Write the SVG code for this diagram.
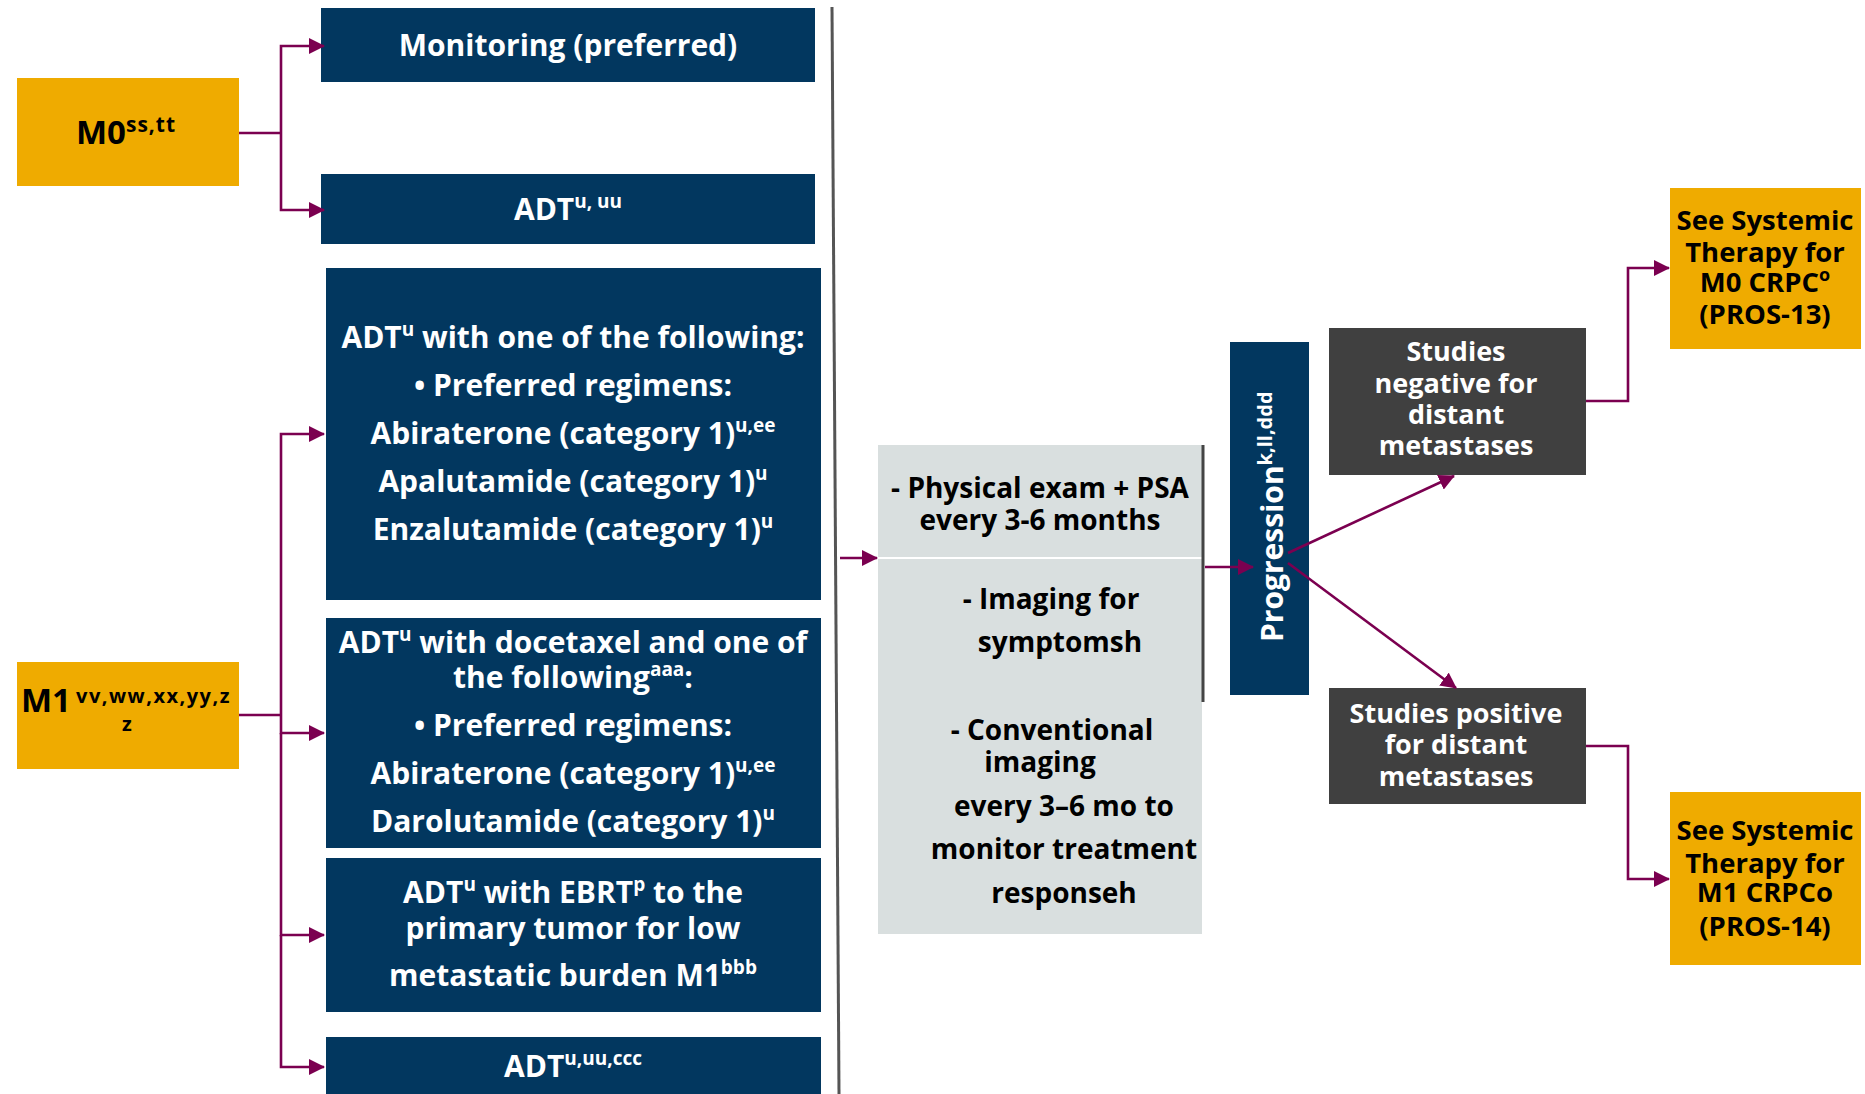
<svg xmlns="http://www.w3.org/2000/svg" width="1865" height="1094" viewBox="0 0 1865 1094">
<style>
  .navy{fill:#02375f}
  .gold{fill:#efab00}
  .dgray{fill:#404040}
  .lgray{fill:#d9dfdf}
  text{font-family:"Open Sans",Lato,"Liberation Sans",sans-serif;font-weight:bold}
  .w{fill:#ffffff;font-size:30px;text-anchor:middle}
  .b{fill:#000000;font-size:28px;text-anchor:middle}
  .bs{fill:#000000;font-size:27.5px;text-anchor:middle}
  .ws{fill:#ffffff;font-size:27px;text-anchor:middle}
  .sup{font-size:19px}
  .conn{fill:none;stroke:#7b0050;stroke-width:2.6}
</style>
<defs>
  <marker id="ah" markerUnits="userSpaceOnUse" markerWidth="16" markerHeight="16" viewBox="0 0 16 16" refX="15" refY="8" orient="auto">
    <path d="M0,0 L16,8 L0,16 Z" fill="#7b0050"/>
  </marker>
</defs>
<rect width="1865" height="1094" fill="#ffffff"/>

<!-- divider -->
<line x1="832" y1="7" x2="839" y2="1094" stroke="#555555" stroke-width="3"/>

<g id="m0">
  <rect class="gold" x="17" y="78" width="222" height="108"/>
  <text x="76" y="144" style="font-size:33px;fill:#000">M0<tspan dy="-12" style="font-size:21px;letter-spacing:1px">ss,tt</tspan></text>
</g>

<g id="m1">
  <rect class="gold" x="17" y="662" width="222" height="107"/>
  <text x="21" y="712" style="font-size:33px;fill:#000">M1</text>
  <text x="76" y="703" style="font-size:20px;letter-spacing:1.5px;fill:#000">vv,ww,xx,yy,z</text>
  <text x="127" y="731" style="font-size:20px;fill:#000;text-anchor:middle">z</text>
</g>

<g id="monitoring">
  <rect class="navy" x="321" y="8" width="494" height="74"/>
  <text class="w" x="568" y="56">Monitoring (preferred)</text>
</g>

<g id="adt-m0">
  <rect class="navy" x="321" y="174" width="494" height="70"/>
  <text class="w" x="568" y="220">ADT<tspan dy="-12" class="sup">u, uu</tspan></text>
</g>

<g id="adt-one-of">
  <rect class="navy" x="326" y="268" width="495" height="332"/>
  <text class="w" x="573" y="348">ADT<tspan dy="-12" class="sup">u</tspan><tspan dy="12"> with one of the following:</tspan></text>
  <text class="w" x="573" y="396">• Preferred regimens:</text>
  <text class="w" x="573" y="444">Abiraterone (category 1)<tspan dy="-12" class="sup">u,ee</tspan></text>
  <text class="w" x="573" y="492">Apalutamide (category 1)<tspan dy="-12" class="sup">u</tspan></text>
  <text class="w" x="573" y="540">Enzalutamide (category 1)<tspan dy="-12" class="sup">u</tspan></text>
</g>

<g id="adt-docetaxel">
  <rect class="navy" x="326" y="618" width="495" height="230"/>
  <text class="w" x="573" y="653">ADT<tspan dy="-12" class="sup">u</tspan><tspan dy="12"> with docetaxel and one of</tspan></text>
  <text class="w" x="573" y="688">the following<tspan dy="-12" class="sup">aaa</tspan><tspan dy="12">:</tspan></text>
  <text class="w" x="573" y="736">• Preferred regimens:</text>
  <text class="w" x="573" y="784">Abiraterone (category 1)<tspan dy="-12" class="sup">u,ee</tspan></text>
  <text class="w" x="573" y="832">Darolutamide (category 1)<tspan dy="-12" class="sup">u</tspan></text>
</g>

<g id="adt-ebrt">
  <rect class="navy" x="326" y="858" width="495" height="154"/>
  <text class="w" x="573" y="903">ADT<tspan dy="-12" class="sup">u</tspan><tspan dy="12"> with EBRT</tspan><tspan dy="-12" class="sup">p</tspan><tspan dy="12"> to the</tspan></text>
  <text class="w" x="573" y="939">primary tumor for low</text>
  <text class="w" x="573" y="986">metastatic burden M1<tspan dy="-12" class="sup">bbb</tspan></text>
</g>

<g id="adt-m1">
  <rect class="navy" x="326" y="1037" width="495" height="57"/>
  <text class="w" x="573" y="1077">ADT<tspan dy="-12" class="sup">u,uu,ccc</tspan></text>
</g>

<g id="monitoring-tests">
  <rect class="lgray" x="878" y="445" width="324" height="489"/>
  <line x1="878" y1="558" x2="1202" y2="558" stroke="#ffffff" stroke-width="2"/>
  <line x1="1203" y1="445" x2="1203" y2="702" stroke="#444444" stroke-width="3"/>
  <text class="b" x="1040" y="498">- Physical exam + PSA</text>
  <text class="b" x="1040" y="530">every 3-6 months</text>
  <text class="b" x="1051" y="609">- Imaging for</text>
  <text class="b" x="1060" y="652">symptomsh</text>
  <text class="b" x="1052" y="740">- Conventional</text>
  <text class="b" x="1040" y="772">imaging</text>
  <text class="b" x="1064" y="816">every 3–6 mo to</text>
  <text class="b" x="1064" y="859">monitor treatment</text>
  <text class="b" x="1064" y="903">responseh</text>
</g>

<g id="progression">
  <rect class="navy" x="1230" y="342" width="79" height="353"/>
  <text transform="translate(1283,642) rotate(-90)" style="fill:#fff;font-size:30px">Progression<tspan dy="-11" style="font-size:20px">k,ll,ddd</tspan></text>
</g>

<g id="studies-negative">
  <rect class="dgray" x="1329" y="328" width="257" height="147"/>
  <text class="ws" x="1456" y="361">Studies</text>
  <text class="ws" x="1456" y="393">negative for</text>
  <text class="ws" x="1456" y="424">distant</text>
  <text class="ws" x="1456" y="455">metastases</text>
</g>

<g id="studies-positive">
  <rect class="dgray" x="1329" y="688" width="257" height="116"/>
  <text class="ws" x="1456" y="723">Studies positive</text>
  <text class="ws" x="1456" y="754">for distant</text>
  <text class="ws" x="1456" y="786">metastases</text>
</g>

<g id="see-m0-crpc">
  <rect class="gold" x="1670" y="188" width="191" height="161"/>
  <text class="bs" x="1765" y="230">See Systemic</text>
  <text class="bs" x="1765" y="262">Therapy for</text>
  <text class="bs" x="1765" y="292">M0 CRPC<tspan dy="-11" style="font-size:18px">o</tspan></text>
  <text class="bs" x="1765" y="324">(PROS-13)</text>
</g>

<g id="see-m1-crpc">
  <rect class="gold" x="1670" y="792" width="191" height="173"/>
  <text class="bs" x="1765" y="840">See Systemic</text>
  <text class="bs" x="1765" y="873">Therapy for</text>
  <text class="bs" x="1765" y="902">M1 CRPCo</text>
  <text class="bs" x="1765" y="936">(PROS-14)</text>
</g>

<g id="connectors">
  <path class="conn" d="M239,133 H281"/>
  <path class="conn" d="M281,133 V46 H324" marker-end="url(#ah)"/>
  <path class="conn" d="M281,133 V210 H324" marker-end="url(#ah)"/>
  <path class="conn" d="M239,715 H281"/>
  <path class="conn" d="M281,715 V434 H324" marker-end="url(#ah)"/>
  <path class="conn" d="M281,715 V733 H324" marker-end="url(#ah)"/>
  <path class="conn" d="M281,733 V935 H324" marker-end="url(#ah)"/>
  <path class="conn" d="M281,935 V1067 H324" marker-end="url(#ah)"/>
  <path class="conn" d="M840,558 H877" marker-end="url(#ah)"/>
  <path class="conn" d="M1205,567 H1253" marker-end="url(#ah)"/>
  <path class="conn" d="M1288,553 L1454,476" marker-end="url(#ah)"/>
  <path class="conn" d="M1288,563 L1456,688" marker-end="url(#ah)"/>
  <path class="conn" d="M1586,401 H1628 V268 H1669" marker-end="url(#ah)"/>
  <path class="conn" d="M1586,746 H1628 V879 H1669" marker-end="url(#ah)"/>
</g>
</svg>
